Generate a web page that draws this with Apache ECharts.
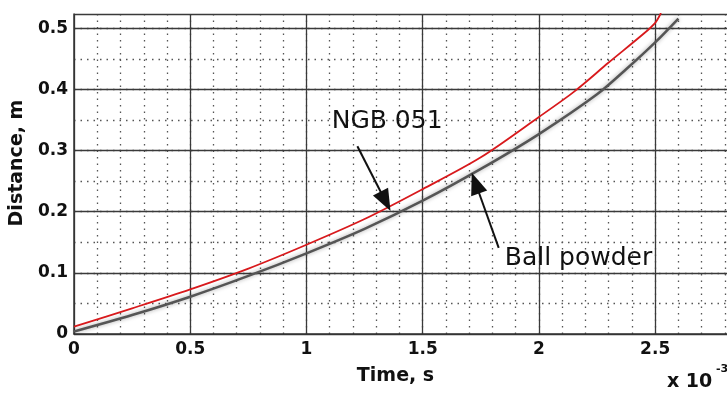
<!DOCTYPE html>
<html>
<head>
<meta charset="utf-8">
<script src="https://cdn.jsdelivr.net/npm/echarts@6/dist/echarts.min.js"></script>
<style>
html,body{margin:0;padding:0;background:#fff;}
#chart{width:727px;height:396px;}
</style>
</head>
<body>
<div id="chart"></div>
<script>
// Time axis in units of 1e-3 s
const ngbTime = [0, 0.25, 0.5, 0.75, 1.0, 1.25, 1.5, 1.75, 2.0, 2.15, 2.3, 2.45, 2.5, 2.525];
const ngbDist = [0.012, 0.042, 0.073, 0.107, 0.146, 0.188, 0.237, 0.289, 0.355, 0.396, 0.444, 0.491, 0.509, 0.525];
const ballTime = [0, 0.25, 0.5, 0.75, 1.0, 1.25, 1.5, 1.75, 2.0, 2.25, 2.375, 2.5, 2.6];
const ballDist = [0.004, 0.031, 0.061, 0.095, 0.132, 0.172, 0.218, 0.270, 0.327, 0.392, 0.433, 0.477, 0.516];
const xTickLabels = ['0', '0.5', '1', '1.5', '2', '2.5'];
const yTickLabels = ['0', '0.1', '0.2', '0.3', '0.4', '0.5'];
// annotations (data coordinates)
const ngbLabel = { text: 'NGB 051', at: [1.347, 0.347] };
const ngbArrow = [[1.219, 0.307], [1.340, 0.217]];
const ballLabel = { text: 'Ball powder', at: [2.170, 0.124] };
const ballArrow = [[1.827, 0.141], [1.727, 0.247]];

const FONT = 'DejaVu Sans';
const chart = echarts.init(document.getElementById('chart'), null, { renderer: 'canvas' });

function pairs(xs, ys) { return xs.map((x, i) => [x, ys[i]]); }

const tickFmt = (labels) => (v) => {
  const s = String(Math.round(v * 1000) / 1000);
  return labels.indexOf(s) >= 0 ? s : '';
};

const option = {
  animation: false,
  backgroundColor: '#fff',
  grid: { left: 73, right: 0, top: 14, bottom: 62, containLabel: false },
  xAxis: [
    {
      type: 'value', min: 0, max: 2.809, interval: 0.5,
      axisLine: { show: true, lineStyle: { color: '#333', width: 1.5 } },
      axisTick: { show: false },
      axisLabel: { fontFamily: FONT, fontSize: 17, fontWeight: 'bold', color: '#111', margin: 7,
        showMaxLabel: false, formatter: tickFmt(xTickLabels) },
      splitLine: { show: true, showMaxLine: false, lineStyle: { color: '#3a3a3a', width: 1.3 } },
      name: 'Time, s', nameLocation: 'middle', nameGap: 33,
      nameTextStyle: { fontFamily: FONT, fontSize: 19, fontWeight: 'bold', color: '#111', padding: [0, 0, 0, -10] },
      z: 2
    },
    {
      type: 'value', min: 0, max: 2.809, interval: 0.1, position: 'top',
      axisLine: { show: false }, axisTick: { show: false }, axisLabel: { show: false },
      splitLine: { show: true, showMinLine: false, showMaxLine: false,
        lineStyle: { color: '#555', width: 1.3, type: [1.5, 5] } },
      z: 1
    }
  ],
  yAxis: [
    {
      type: 'value', min: 0, max: 0.5234, interval: 0.1,
      axisLine: { show: true, lineStyle: { color: '#333', width: 1.5 } },
      axisTick: { show: false },
      axisLabel: { fontFamily: FONT, fontSize: 17, fontWeight: 'bold', color: '#111', margin: 6,
        showMaxLabel: false, formatter: tickFmt(yTickLabels) },
      splitLine: { show: true, lineStyle: { color: '#3a3a3a', width: 1.3 } },
      name: 'Distance, m', nameLocation: 'middle', nameGap: 44,
      nameTextStyle: { fontFamily: FONT, fontSize: 19, fontWeight: 'bold', color: '#111', padding: [0, 0, 0, 22] },
      z: 2
    },
    {
      type: 'value', min: 0, max: 0.5234, interval: 0.05, position: 'right',
      axisLine: { show: false }, axisTick: { show: false }, axisLabel: { show: false },
      splitLine: { show: true, showMinLine: false, showMaxLine: false,
        lineStyle: { color: '#555', width: 1.3, type: [1.5, 5] } },
      z: 1
    }
  ],
  series: [
    {
      name: 'Ball powder', type: 'line', xAxisIndex: 0, yAxisIndex: 0,
      data: pairs(ballTime, ballDist), smooth: 0.3, showSymbol: false, symbol: 'none',
      lineStyle: { color: '#555', width: 2.5, shadowColor: 'rgba(0,0,0,0.35)', shadowBlur: 4 },
      z: 3, silent: true,
      markLine: {
        silent: true, animation: false,
        label: { show: false },
        lineStyle: { color: '#111', width: 2, type: 'solid' },
        symbol: ['none', 'triangle'], symbolSize: [17, 22],
        data: [
          [{ coord: ballArrow[0] }, { coord: ballArrow[1] }],
          [{ coord: ngbArrow[0] }, { coord: ngbArrow[1] }]
        ]
      },
      markPoint: {
        silent: true, animation: false,
        symbol: 'circle', symbolSize: 1, itemStyle: { color: 'rgba(0,0,0,0)' },
        label: { show: true, position: 'inside', fontFamily: FONT, fontSize: 25, color: '#111',
          formatter: (p) => p.name },
        data: [
          { name: ngbLabel.text, coord: ngbLabel.at },
          { name: ballLabel.text, coord: ballLabel.at }
        ]
      }
    },
    {
      name: 'NGB 051', type: 'line', xAxisIndex: 0, yAxisIndex: 0,
      data: pairs(ngbTime, ngbDist), smooth: 0.3, showSymbol: false, symbol: 'none',
      lineStyle: { color: '#d8191c', width: 1.8 },
      z: 4, silent: true
    }
  ],
  graphic: [
    { type: 'text', left: 667, top: 373, z: 10,
      style: { text: 'x 10', font: 'bold 19px "DejaVu Sans"', fill: '#111' } },
    { type: 'text', left: 716, top: 364, z: 10,
      style: { text: '-3', font: 'bold 11px "DejaVu Sans"', fill: '#111' } }
  ]
};
chart.setOption(option);
</script>
</body>
</html>
